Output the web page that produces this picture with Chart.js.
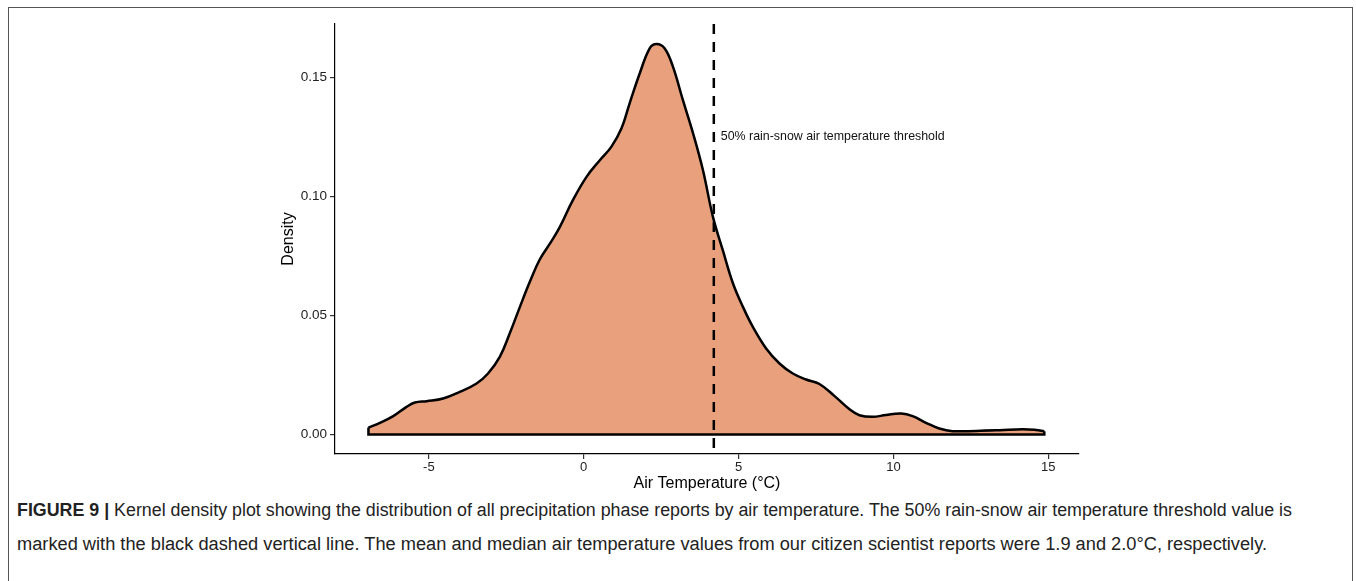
<!DOCTYPE html>
<html>
<head>
<meta charset="utf-8">
<script src="https://cdn.jsdelivr.net/npm/chart.js@4.4.1/dist/chart.umd.min.js"></script>
<style>
  html, body { margin: 0; padding: 0; background: #fff; }
  body { width: 1356px; height: 581px; position: relative; overflow: hidden; }
  #frame { position: absolute; left: 8px; top: 7px; width: 1345px; height: 590px; border: 1.5px solid #555; box-sizing: border-box; }
  #chart-wrap { position: absolute; left: 0; top: 0; width: 1356px; height: 500px; }
  .caption { position: absolute; left: 17px; font-family: "Liberation Sans", Arial, sans-serif; font-size: 18px; color: #222; white-space: nowrap; transform-origin: 0 0; }
  .caption b { font-weight: bold; }
</style>
</head>
<body>
<div id="frame"></div>
<div id="chart-wrap"><canvas id="chart" width="1356" height="500"></canvas></div>
<div class="caption" id="cap1" data-w="1275" style="top:500px"><b>FIGURE 9 |</b> Kernel density plot showing the distribution of all precipitation phase reports by air temperature. The 50% rain-snow air temperature threshold value is</div>
<div class="caption" id="cap2" data-w="1250" style="top:534px">marked with the black dashed vertical line. The mean and median air temperature values from our citizen scientist reports were 1.9 and 2.0°C, respectively.</div>
<script>
// density curve
const tempC = [
  -6.95, -6.58, -6.15, -5.72, -5.45, -5.07, -4.54, -4.0, -3.46, -3.09,
  -2.71, -2.39, -2.06, -1.74, -1.42, -1.04, -0.77, -0.35, 0.09, 0.52,
  0.89, 1.22, 1.48, 1.81, 2.13, 2.35, 2.61, 2.88, 3.20, 3.53,
  3.85, 4.17, 4.49, 4.82, 5.14, 5.46, 5.89, 6.32, 6.75, 7.18,
  7.61, 8.10, 8.58, 8.90, 9.33, 9.76, 10.25, 10.62, 11.05, 11.48,
  11.91, 12.67, 13.42, 14.17, 14.60, 14.87
];
const density = [
  0.0029, 0.0049, 0.0077, 0.0116, 0.0134, 0.0140, 0.0151, 0.0179, 0.0214, 0.0256,
  0.0326, 0.0424, 0.0536, 0.0641, 0.0735, 0.0812, 0.0872, 0.0984, 0.1082, 0.1152,
  0.1208, 0.1286, 0.1390, 0.1517, 0.1622, 0.1640, 0.1622, 0.1545, 0.1405, 0.1265,
  0.1110, 0.0915, 0.0774, 0.0634, 0.0536, 0.0452, 0.0361, 0.0298, 0.0256, 0.0231,
  0.0212, 0.0161, 0.0106, 0.0081, 0.0074, 0.0082, 0.0088, 0.0077, 0.0049, 0.0025,
  0.0014, 0.0015, 0.0018, 0.0022, 0.0019, 0.0014
];
const threshold = 4.2;
const thresholdLabel = '50% rain-snow air temperature threshold';
const labelDensity = 0.125;

const xTicks = [-5, 0, 5, 10, 15];
const xTickLabels = ['-5', '0', '5', '10', '15'];
const yTicks = [0, 0.05, 0.10, 0.15];
const yTickLabels = ['0.00', '0.05', '0.10', '0.15'];
const xMin = -8.03, xMax = 15.99;
const yMin = -0.0082, yMax = 0.1724;

const FONT = '"Liberation Sans", Arial, sans-serif';
const n = tempC.length;

const curve = tempC.map((t, i) => ({ x: t, y: density[i] }));
// bottom edge + the two short vertical ends of the outline
const base = [
  { x: tempC[0], y: density[0] },
  { x: tempC[0], y: 0 },
  { x: tempC[n - 1], y: 0 },
  { x: tempC[n - 1], y: density[n - 1] },
];
const vline = [{ x: threshold, y: yMax }, { x: threshold, y: yMin }];

const thresholdText = {
  id: 'thresholdText',
  afterDatasetsDraw(chart) {
    const { ctx, scales } = chart;
    const px = scales.x.getPixelForValue(threshold);
    const py = scales.y.getPixelForValue(labelDensity);
    ctx.save();
    ctx.font = '12.4px ' + FONT;
    ctx.fillStyle = '#111';
    ctx.textAlign = 'left';
    ctx.textBaseline = 'middle';
    ctx.fillText(thresholdLabel, px + 7, py);
    ctx.restore();
  },
};

function axisTicks(values, labels) {
  return (scale) => { scale.ticks = values.map((v, i) => ({ value: v, label: labels[i] })); };
}

new Chart(document.getElementById('chart'), {
  type: 'line',
  data: {
    datasets: [
      { data: vline, borderColor: '#000', borderWidth: 2.5, borderDash: [10, 8], pointRadius: 0, fill: false, tension: 0 },
      { data: base, borderColor: '#000', borderWidth: 2.5, pointRadius: 0, fill: false, tension: 0 },
      {
        data: curve,
        borderColor: '#000',
        borderWidth: 2.5,
        backgroundColor: '#E8A17C',
        fill: 'origin',
        pointRadius: 0,
        tension: 0.4,
      },
    ],
  },
  options: {
    responsive: false,
    animation: false,
    events: [],
    layout: { padding: { left: 279, right: 277, top: 24, bottom: 7 } },
    plugins: { legend: { display: false }, tooltip: { enabled: false } },
    scales: {
      x: {
        type: 'linear',
        min: xMin,
        max: xMax,
        afterBuildTicks: axisTicks(xTicks, xTickLabels),
        afterFit: (s) => { s.height = 39; },
        border: { display: true, color: '#000', width: 1.2 },
        grid: { drawOnChartArea: false, drawTicks: true, tickLength: 5, color: '#333', lineWidth: 1.2 },
        ticks: { color: '#222', font: { family: FONT, size: 13 }, padding: 1, maxRotation: 0, autoSkip: false,
          callback: (v, i) => xTickLabels[i] },
        title: { display: true, text: 'Air Temperature (°C)', color: '#000', font: { family: FONT, size: 16 }, padding: 0 },
      },
      y: {
        type: 'linear',
        min: yMin,
        max: yMax,
        afterBuildTicks: axisTicks(yTicks, yTickLabels),
        afterFit: (s) => { s.width = 56; },
        border: { display: true, color: '#000', width: 1.2 },
        grid: { drawOnChartArea: false, drawTicks: true, tickLength: 5, color: '#333', lineWidth: 1.2 },
        ticks: { color: '#222', font: { family: FONT, size: 13.5 }, padding: 3, autoSkip: false,
          callback: (v, i) => yTickLabels[i] },
        title: { display: true, text: 'Density', color: '#000', font: { family: FONT, size: 16 }, padding: 0 },
      },
    },
  },
  plugins: [thresholdText],
});

// squeeze caption lines to the condensed width of the original
for (const el of document.querySelectorAll('.caption')) {
  const target = Number(el.dataset.w);
  const w = el.getBoundingClientRect().width;
  el.style.transform = `scaleX(${target / w})`;
}
</script>
</body>
</html>
